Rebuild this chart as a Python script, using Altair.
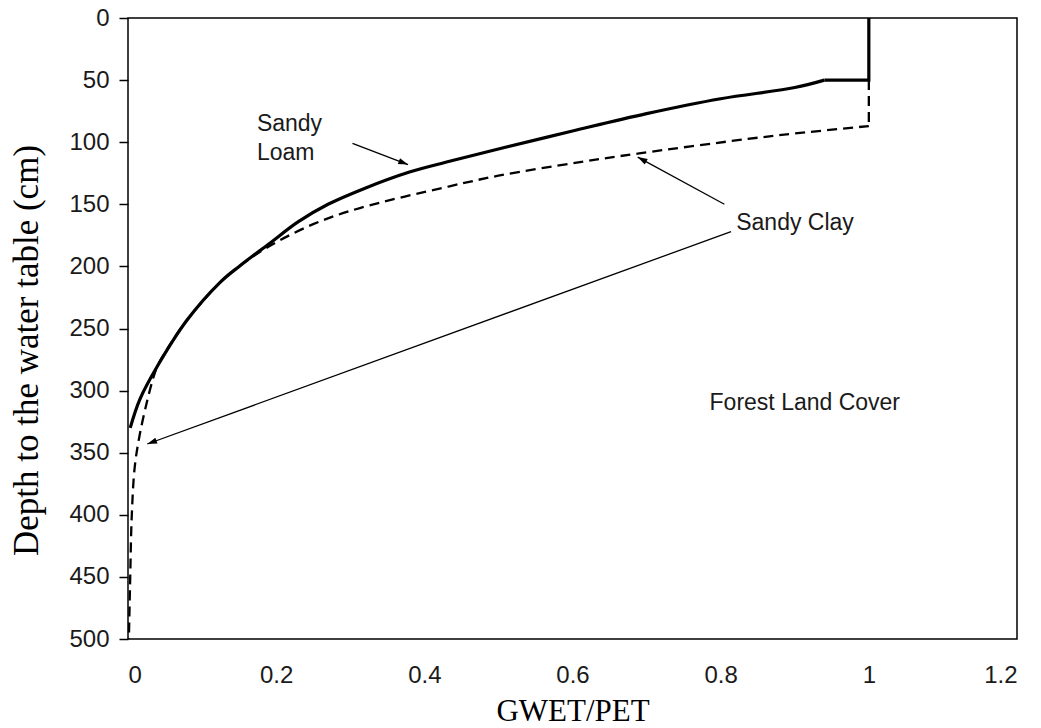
import math
import altair as alt
import pandas as pd

# Sandy loam (solid): GWET/PET ratio against depth to the water table (cm)
# the first three points form the straight step at the top, the rest the curve
loam_ratio = [1.0, 1.0, 0.94, 0.90, 0.80, 0.70, 0.60, 0.50, 0.43, 0.38, 0.32, 0.27,
              0.23, 0.19, 0.15, 0.124, 0.08, 0.04, 0.016, 0.003]
loam_depth = [0, 50, 50, 56, 65, 77, 91, 105.5, 116, 124, 137, 150,
              164, 182, 200, 213, 243, 280, 307, 330]

# Sandy clay (dashed); the first two points form the vertical step at ratio 1
clay_ratio = [1.0, 1.0, 0.90, 0.835, 0.69, 0.61, 0.50, 0.434, 0.313, 0.25, 0.19,
              0.15, 0.124, 0.08, 0.06, 0.04, 0.034, 0.026, 0.016, 0.009, 0.005,
              0.003, 0.0012]
clay_depth = [50, 87, 93, 97.5, 109, 116, 127, 135.5, 153, 166, 184,
              200, 213, 243, 260, 280, 290, 308, 335, 362, 402,
              450, 500]

# Annotation texts and where they sit (data units)
label_text = ["Sandy", "Loam", "Sandy Clay", "Forest Land Cover"]
label_ratio = [0.174, 0.174, 0.821, 0.785]
label_depth = [85, 109, 165, 310]

# Pointer arrows: tail -> head
arrow_ratio0 = [0.303, 0.805, 0.814]
arrow_depth0 = [101, 150, 172]
arrow_ratio1 = [0.378, 0.688, 0.026]
arrow_depth1 = [118, 112, 343]

x_ticks = [0, 0.2, 0.4, 0.6, 0.8, 1.0, 1.2]
y_ticks = list(range(0, 501, 50))

W, H = 889, 621
X_MAX, Y_MAX = 1.2, 500


def frame(ratio, depth):
    return pd.DataFrame({"ratio": ratio, "depth": depth, "idx": range(len(ratio))})


loam_step = frame(loam_ratio[:3], loam_depth[:3])
loam_curve = frame(loam_ratio[2:], loam_depth[2:])
clay_step = frame(clay_ratio[:2], clay_depth[:2])
clay_curve = frame(clay_ratio[1:], clay_depth[1:])

labels = pd.DataFrame({"ratio": label_ratio, "depth": label_depth, "text": label_text})

# arrowhead rotation follows the on-screen direction of each arrow
px_x, px_y = W / X_MAX, H / Y_MAX
angles = []
for r0, d0, r1, d1 in zip(arrow_ratio0, arrow_depth0, arrow_ratio1, arrow_depth1):
    dx = (r1 - r0) * px_x
    dy = (d1 - d0) * px_y
    angles.append(math.degrees(math.atan2(dx, -dy)) % 360)

arrows = pd.DataFrame({"ratio": arrow_ratio0, "depth": arrow_depth0,
                       "ratio2": arrow_ratio1, "depth2": arrow_depth1})
heads = pd.DataFrame({"ratio": arrow_ratio1, "depth": arrow_depth1, "angle": angles})


def xenc():
    return alt.X("ratio:Q",
                 scale=alt.Scale(domain=[0, X_MAX], nice=False, zero=False),
                 axis=alt.Axis(values=x_ticks, format="~g", title="GWET/PET",
                               tickSize=0, labelPadding=24, titleY=81,
                               titleBaseline="alphabetic"))


def yenc():
    return alt.Y("depth:Q",
                 scale=alt.Scale(domain=[0, Y_MAX], reverse=True, nice=False, zero=False),
                 axis=alt.Axis(values=y_ticks, format="d",
                               title="Depth to the water table (cm)",
                               tickSize=9, tickWidth=1.5, labelPadding=10,
                               titleAngle=270, titleX=-91, titleY=332,
                               titleAlign="center", titleBaseline="alphabetic",
                               titleFontSize=35))


def line(df, interp, **style):
    return alt.Chart(df).mark_line(color="black", interpolate=interp, **style).encode(
        x=xenc(), y=yenc(), order="idx:Q")


solid = dict(strokeWidth=3.2, strokeCap="butt")
dashed = dict(strokeWidth=2.3, strokeDash=[10, 6])

layers = [
    line(clay_step, "linear", **dashed),
    line(clay_curve, "catmull-rom", **dashed),
    line(loam_step, "linear", **solid),
    line(loam_curve, "catmull-rom", **solid),
]

arrow_lines = alt.Chart(arrows).mark_rule(color="black", strokeWidth=1.3).encode(
    x=xenc(), y=yenc(), x2="ratio2:Q", y2="depth2:Q")

arrow_heads = alt.Chart(heads).mark_point(
    shape="M0,0L-0.32,1L0.32,1Z", filled=True, color="black", opacity=1,
    size=380, strokeWidth=0).encode(
    x=xenc(), y=yenc(), angle=alt.Angle("angle:Q", scale=None))

text = alt.Chart(labels).mark_text(
    align="left", baseline="middle", font="Liberation Sans", fontSize=23,
    color="#1a1a1a").encode(x=xenc(), y=yenc(), text="text:N")

chart = alt.layer(*layers, arrow_lines, arrow_heads, text).properties(
    width=W, height=H,
    autosize=alt.AutoSizeParams(type="none"),
    padding={"left": 128, "top": 18, "right": 24, "bottom": 89},
    background="white",
).configure_view(
    stroke="black", strokeWidth=1.5
).configure_axis(
    grid=False, domain=False,
    labelFont="Liberation Sans", labelFontSize=24, labelColor="#1a1a1a",
    tickColor="black",
    titleFont="Liberation Serif", titleFontSize=31, titleFontWeight="normal",
    titleColor="black",
)

chart.save("out.html", embed_options={"renderer": "svg", "actions": False})
